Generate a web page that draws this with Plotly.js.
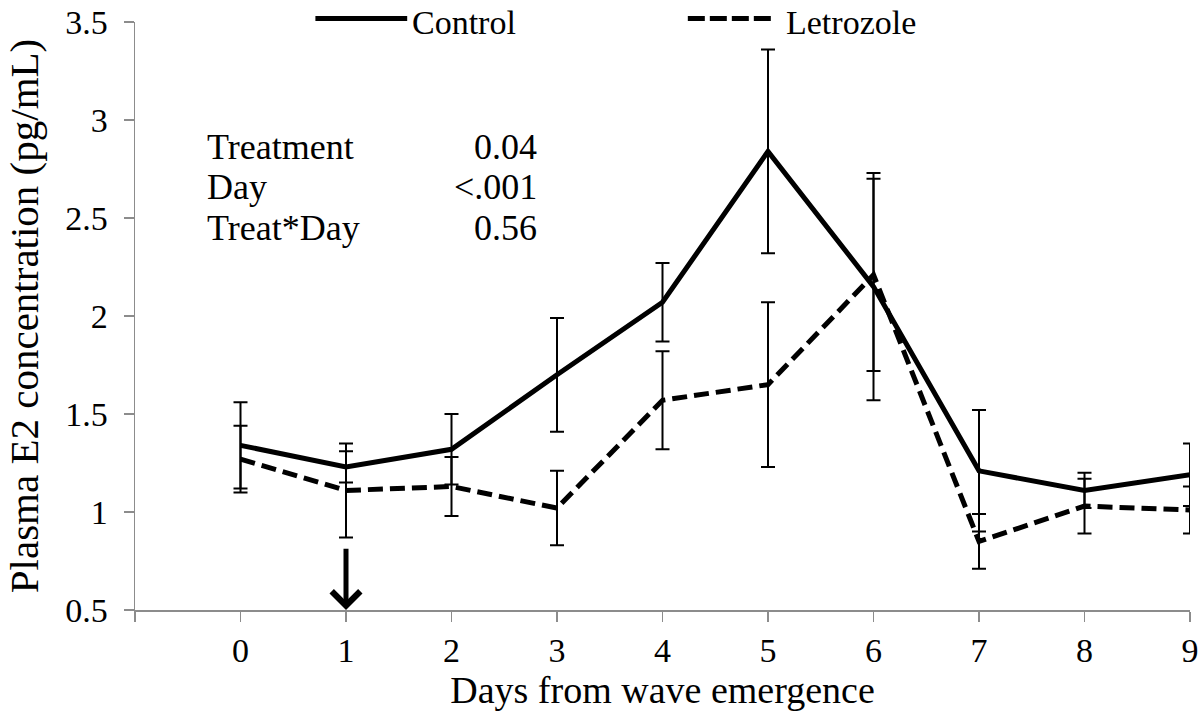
<!DOCTYPE html>
<html>
<head>
<meta charset="utf-8">
<script src="https://cdn.plot.ly/plotly-3.0.1.min.js"></script>
<style>html,body{margin:0;padding:0;background:#fff;}#chart{width:1200px;height:713px;}</style>
</head>
<body>
<div id="chart"></div>
<script>
// ---- data ----
const days = [0, 1, 2, 3, 4, 5, 6, 7, 8, 9];
const controlMean = [1.34, 1.23, 1.32, 1.70, 2.07, 2.84, 2.15, 1.21, 1.11, 1.19];
const controlErr  = [0.22, 0.08, 0.18, 0.29, 0.20, 0.52, 0.58, 0.31, 0.09, 0.16];
const letrozoleMean = [1.27, 1.11, 1.13, 1.02, 1.57, 1.65, 2.21, 0.85, 1.03, 1.01];
const letrozoleErr  = [0.17, 0.24, 0.15, 0.19, 0.25, 0.42, 0.49, 0.14, 0.14, 0.12];
const xTickVals = [-1, 0, 1, 2, 3, 4, 5, 6, 7, 8, 9];
const xTickText = ['', '0', '1', '2', '3', '4', '5', '6', '7', '8', '9'];
const yTickVals = [0.5, 1, 1.5, 2, 2.5, 3, 3.5];
const yTickText = ['0.5', '1', '1.5', '2', '2.5', '3', '3.5'];
const statLabels = ['Treatment', 'Day', 'Treat*Day'];
const statValues = ['0.04', '<.001', '0.56'];
const seriesNames = ['Control', 'Letrozole'];
const arrowDay = 1, arrowFrom = 0.82, arrowTo = 0.5;

const FONT = 'Liberation Serif, Times New Roman, serif';
const AXIS_GRAY = '#8c8c8c';
const TICK_SIZE = 34, YTITLE_SIZE = 41, XTITLE_SIZE = 38, NOTE_SIZE = 36, LEG_SIZE = 34;

const errStyle = {type: 'data', symmetric: true, color: '#000', thickness: 2, width: 7};

const traces = [
  {
    x: days, y: controlMean, name: seriesNames[0], type: 'scatter', mode: 'lines',
    line: {color: '#000', width: 5},
    error_y: Object.assign({array: controlErr}, errStyle),
    cliponaxis: false
  },
  {
    x: days, y: letrozoleMean, name: seriesNames[1], type: 'scatter', mode: 'lines',
    line: {color: '#000', width: 5, dash: '15px,7px'},
    error_y: Object.assign({array: letrozoleErr}, errStyle),
    cliponaxis: false
  }
];

const rowY = [0.787, 0.719, 0.65];
const annotations = [];
statLabels.forEach((t, i) => {
  annotations.push({xref: 'paper', yref: 'paper', x: 0.067, y: rowY[i], text: t, borderpad: 0,
    showarrow: false, xanchor: 'left', yanchor: 'middle', font: {family: FONT, size: NOTE_SIZE, color: '#000'}});
  annotations.push({xref: 'paper', yref: 'paper', x: 0.382, y: rowY[i], text: statValues[i], borderpad: 0,
    showarrow: false, xanchor: 'right', yanchor: 'middle', font: {family: FONT, size: NOTE_SIZE, color: '#000'}});
});
// legend texts
const legY = 0.999;
annotations.push({xref: 'paper', yref: 'paper', x: 0.262, y: legY, text: seriesNames[0], showarrow: false,
  borderpad: 0, xanchor: 'left', yanchor: 'middle', font: {family: FONT, size: LEG_SIZE, color: '#000'}});
annotations.push({xref: 'paper', yref: 'paper', x: 0.616, y: legY, text: seriesNames[1], showarrow: false,
  borderpad: 0, xanchor: 'left', yanchor: 'middle', font: {family: FONT, size: LEG_SIZE, color: '#000'}});
// arrow
annotations.push({x: arrowDay, y: arrowTo, ax: arrowDay, ay: arrowFrom, xref: 'x', yref: 'y', axref: 'x', ayref: 'y',
  text: '', showarrow: true, arrowhead: 4, arrowsize: 1.1, arrowwidth: 5, arrowcolor: '#000'});

const shapes = [
  {type: 'line', xref: 'paper', yref: 'paper', x0: 0.171, x1: 0.258, y0: 1.006, y1: 1.006,
   line: {color: '#000', width: 5}},
  {type: 'line', xref: 'paper', yref: 'paper', x0: 0.524, x1: 0.604, y0: 1.006, y1: 1.006,
   line: {color: '#000', width: 5, dash: '17px,5px'}}
];

const layout = {
  width: 1200, height: 713,
  paper_bgcolor: '#fff', plot_bgcolor: '#fff',
  margin: {l: 135, r: 10, t: 22, b: 103},
  showlegend: false,
  font: {family: FONT, color: '#000', size: TICK_SIZE},
  xaxis: {
    range: [-1, 9], tickvals: xTickVals, ticktext: xTickText,
    showgrid: false, zeroline: false, showline: true, linecolor: AXIS_GRAY, linewidth: 1.5,
    ticks: 'outside', ticklen: 10, tickcolor: AXIS_GRAY, tickwidth: 1.5, ticklabelstandoff: 0,
    tickfont: {family: FONT, size: TICK_SIZE, color: '#000'},
    title: {text: 'Days from wave emergence', font: {family: FONT, size: XTITLE_SIZE, color: '#000'}, standoff: 6}
  },
  yaxis: {
    range: [0.5, 3.5], tickvals: yTickVals, ticktext: yTickText,
    showgrid: false, zeroline: false, showline: true, linecolor: AXIS_GRAY, linewidth: 1.5,
    ticks: 'outside', ticklen: 10, tickcolor: AXIS_GRAY, tickwidth: 1.5, ticklabelstandoff: 9,
    tickfont: {family: FONT, size: TICK_SIZE, color: '#000'},
    title: {text: 'Plasma E2 concentration (pg/mL)', font: {family: FONT, size: YTITLE_SIZE, color: '#000'}, standoff: 14}
  },
  annotations: annotations,
  shapes: shapes
};

Plotly.newPlot('chart', traces, layout, {displayModeBar: false, staticPlot: true});
</script>
</body>
</html>
